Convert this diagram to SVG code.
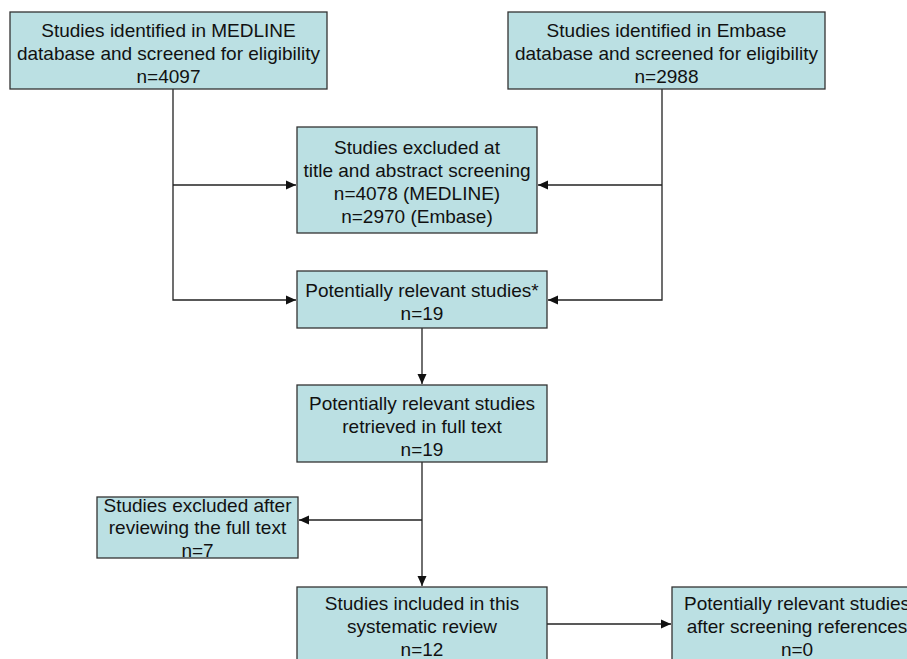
<svg xmlns="http://www.w3.org/2000/svg" width="907" height="659" viewBox="0 0 907 659">
<style>
.box{fill:#BBE0E3;stroke:#333;stroke-width:1.3}
.t{font-family:"Liberation Sans",Arial,sans-serif;font-size:19px;fill:#111;text-anchor:middle}
.c{fill:none;stroke:#222;stroke-width:1.3}
</style>
<defs>
<marker id="ah" markerUnits="userSpaceOnUse" markerWidth="11" markerHeight="10" refX="10" refY="5" orient="auto">
<path d="M0,0.5 L10,5 L0,9.5 Z" fill="#111"/>
</marker>
</defs>
<rect width="907" height="659" fill="#fff"/>
<g id="connectors">
<path class="c" d="M173,89 V300 H296" marker-end="url(#ah)"/>
<path class="c" d="M173,185 H296" marker-end="url(#ah)"/>
<path class="c" d="M662,89 V300 H548" marker-end="url(#ah)"/>
<path class="c" d="M662,185 H538" marker-end="url(#ah)"/>
<path class="c" d="M422,328 V384" marker-end="url(#ah)"/>
<path class="c" d="M422,462 V586" marker-end="url(#ah)"/>
<path class="c" d="M422,520 H299" marker-end="url(#ah)"/>
<path class="c" d="M547,624 H671" marker-end="url(#ah)"/>
</g>
<g id="medline">
<rect class="box" x="10" y="12" width="317" height="77"/>
<text class="t" x="168.5" y="37">Studies identified in MEDLINE</text>
<text class="t" x="168.5" y="60">database and screened for eligibility</text>
<text class="t" x="168.5" y="83">n=4097</text>
</g>
<g id="embase">
<rect class="box" x="508" y="12" width="317" height="77"/>
<text class="t" x="666.5" y="37">Studies identified in Embase</text>
<text class="t" x="666.5" y="60">database and screened for eligibility</text>
<text class="t" x="666.5" y="83">n=2988</text>
</g>
<g id="excluded-title">
<rect class="box" x="297" y="127" width="240" height="106"/>
<text class="t" x="417" y="154">Studies excluded at</text>
<text class="t" x="417" y="177">title and abstract screening</text>
<text class="t" x="417" y="200">n=4078 (MEDLINE)</text>
<text class="t" x="417" y="223">n=2970 (Embase)</text>
</g>
<g id="potentially-relevant">
<rect class="box" x="297" y="271" width="250" height="57"/>
<text class="t" x="422" y="297">Potentially relevant studies*</text>
<text class="t" x="422" y="320">n=19</text>
</g>
<g id="retrieved">
<rect class="box" x="297" y="385" width="250" height="77"/>
<text class="t" x="422" y="410">Potentially relevant studies</text>
<text class="t" x="422" y="433">retrieved in full text</text>
<text class="t" x="422" y="456">n=19</text>
</g>
<g id="excluded-full">
<rect class="box" x="97" y="497" width="201" height="61"/>
<text class="t" x="197.5" y="512">Studies excluded after</text>
<text class="t" x="197.5" y="534">reviewing the full text</text>
<text class="t" x="197.5" y="557">n=7</text>
</g>
<g id="included">
<rect class="box" x="297" y="587" width="250" height="80"/>
<text class="t" x="422" y="610">Studies included in this</text>
<text class="t" x="422" y="633">systematic review</text>
<text class="t" x="422" y="656">n=12</text>
</g>
<g id="references">
<rect class="box" x="672" y="587" width="250" height="80"/>
<text class="t" x="797" y="610">Potentially relevant studies</text>
<text class="t" x="797" y="633">after screening references</text>
<text class="t" x="797" y="656">n=0</text>
</g>
</svg>
